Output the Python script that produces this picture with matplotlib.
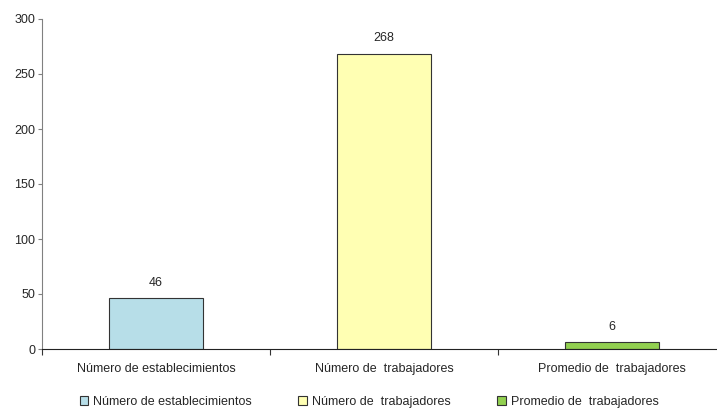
import matplotlib

matplotlib.use("Agg")
import matplotlib.pyplot as plt
from matplotlib.patches import Patch

plt.rcParams["font.family"] = ["Liberation Sans", "DejaVu Sans"]

categories = ["Número de establecimientos", "Número de  trabajadores", "Promedio de  trabajadores"]
values = [46, 268, 6]
colors = ["#B7DEE8", "#FFFFB3", "#92D050"]
yticks = [0, 50, 100, 150, 200, 250, 300]
TEXT = "#262626"
FS = 9

fig = plt.figure(figsize=(7.17, 4.11), dpi=100)
# eje x se extiende más allá del borde derecho, como en el original
ax = fig.add_axes([42 / 717, 1 - 349 / 411, 684 / 717, 330 / 411])
x = range(len(categories))
ax.bar(x, values, width=0.41, color=colors, edgecolor="#333333", linewidth=0.8, zorder=2)
for xi, v in zip(x, values):
    ax.text(xi, v + 9, str(v), ha="center", va="bottom", fontsize=FS, color=TEXT)

ax.set_xlim(-0.5, len(categories) - 0.5)
ax.set_ylim(0, 300)
ax.set_yticks(yticks)
ax.tick_params(axis="y", direction="out", length=3, width=0.8, color="#808080", labelsize=FS, labelcolor=TEXT, pad=2)
ax.set_xticks([i + 0.5 for i in range(-1, len(categories))], minor=True)
ax.set_xticks(list(x))
ax.set_xticklabels(categories, fontsize=FS, color=TEXT)
ax.tick_params(axis="x", which="major", length=0, pad=10)
ax.tick_params(axis="x", which="minor", direction="out", length=4, width=0.8, color="#333333")
for side in ("top", "right"):
    ax.spines[side].set_visible(False)
ax.spines["left"].set_color("#808080")
ax.spines["bottom"].set_color("#222222")

handles = [Patch(facecolor=c, edgecolor="#333333", linewidth=0.8) for c in colors]
fig.legend(handles, categories, loc="center", bbox_to_anchor=(0.515, 1 - 402 / 411), ncol=3,
           frameon=False, fontsize=FS, handlelength=0.7, handleheight=0.7, handletextpad=0.4,
           columnspacing=3.7, labelcolor=TEXT)

fig.savefig("out.png", dpi=100)
